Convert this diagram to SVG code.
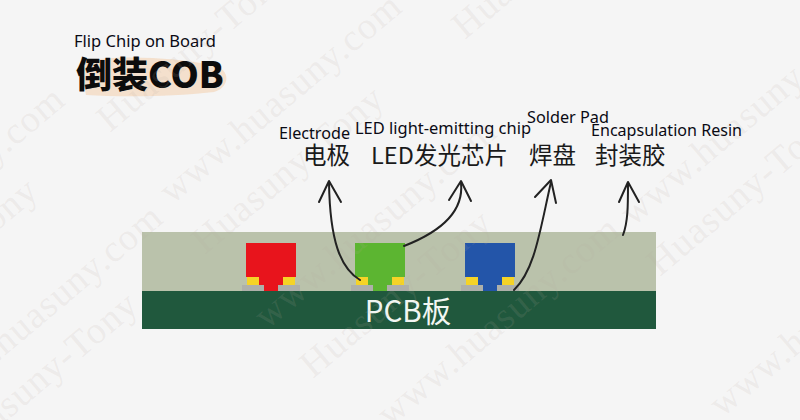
<svg xmlns="http://www.w3.org/2000/svg" width="800" height="420" viewBox="0 0 800 420">
<style>
.wm{font-family:"Liberation Serif",serif;font-size:38px;fill:#b8aaa2;fill-opacity:.15;letter-spacing:1px}
.en{font-family:"Noto Sans","Open Sans",sans-serif;font-size:16px;fill:#0a0a14}
.zh{font-family:"Noto Sans CJK SC",sans-serif;font-size:23.5px;fill:#1a1a1a}
.arrow{fill:none;stroke:#222;stroke-width:2;stroke-linecap:round;stroke-linejoin:round}
.resin{fill:#bac2ab}.pcb{fill:#20583d}.pad{fill:#f5d327}.sol{fill:#aeb0aa}
</style>
<defs>
<g id="chipBase">
<rect class="sol" x="242" y="285" width="22" height="6"/>
<rect class="sol" x="278" y="285" width="22" height="6"/>
<rect class="pad" x="247" y="277" width="12" height="8"/>
<rect class="pad" x="283" y="277" width="12" height="8"/>
</g>
</defs>
<rect width="800" height="420" fill="#f5f5f5"/>
<g id="title">
<path d="M80 62 C110 55 170 56 216 66 C232 72 228 88 214 92 C170 97 120 97 86 95 Z" fill="#f3dcc6" fill-opacity=".85"/>
<text x="74" y="47" class="en" textLength="142" lengthAdjust="spacingAndGlyphs">Flip Chip on Board</text>
<text x="76" y="88" font-family="Noto Sans CJK SC,sans-serif" font-size="36" font-weight="900" fill="#0c0c0c">倒装COB</text>
</g>
<g id="board">
<rect class="resin" x="142" y="232" width="514" height="59"/>
<rect class="pcb" x="142" y="291" width="514" height="38"/>
<text x="408" y="322" text-anchor="middle" font-family="Noto Sans CJK SC,sans-serif" font-size="29.5" fill="#f2f6f2">PCB板</text>
</g>
<g id="chip-red">
<path d="M246 243H296V277H283V285H278V291H264V285H259V277H246Z" fill="#e8141c"/>
<use href="#chipBase"/>
</g>
<g id="chip-green">
<path d="M355 243H405V277H392V285H387V291H373V285H368V277H355Z" fill="#5cb531"/>
<use href="#chipBase" x="109"/>
</g>
<g id="chip-blue">
<path d="M465 243H515V277H502V285H497V291H483V285H478V277H465Z" fill="#2355a9"/>
<use href="#chipBase" x="219"/>
</g>
<g id="watermark">
<text class="wm" transform="translate(-165,298) rotate(-40)">www.huasuny.com</text>
<text class="wm" transform="translate(110,133) rotate(-40)">Huasuny-Tony</text>
<text class="wm" transform="translate(-141,347) rotate(-40)">Huasuny-Tony</text>
<text class="wm" transform="translate(172,205) rotate(-40)">www.huasuny.com</text>
<text class="wm" transform="translate(-67,416) rotate(-40)">www.huasuny.com</text>
<text class="wm" transform="translate(205,255) rotate(-40)">Huasuny-Tony</text>
<text class="wm" transform="translate(390,428) rotate(-40)">www.huasuny.com</text>
<text class="wm" transform="translate(-41,461) rotate(-40)">Huasuny-Tony</text>
<text class="wm" transform="translate(267,330) rotate(-40)">www.huasuny.com</text>
<text class="wm" transform="translate(313,379) rotate(-40)">Huasuny-Tony</text>
<text class="wm" transform="translate(633,227) rotate(-40)">www.huasuny.com</text>
<text class="wm" transform="translate(660,277) rotate(-40)">Huasuny-Tony</text>
<text class="wm" transform="translate(722,418) rotate(-40)">www.huasuny.com</text>
<text class="wm" transform="translate(465,40) rotate(-40)">Huasuny-Tony</text>
</g>
<g id="connectors">
<path class="arrow" d="M360 280C340 268 330 240 329 183"/>
<path class="arrow" d="M319 202L329 181L341 202"/>
<path class="arrow" d="M404 246C440 232 464 212 461 183"/>
<path class="arrow" d="M449 200L461 181L471 201"/>
<path class="arrow" d="M514 290C535 270 540 230 551 182"/>
<path class="arrow" d="M535 197L551 180L556 203"/>
<path class="arrow" d="M623 235C628 222 628 205 628 184"/>
<path class="arrow" d="M619 202L628 182L639 202"/>
</g>
<g id="labels">
<text x="279" y="139" class="en" textLength="71" lengthAdjust="spacingAndGlyphs">Electrode</text>
<text x="355" y="134" class="en" textLength="176" lengthAdjust="spacingAndGlyphs">LED light-emitting chip</text>
<text x="527" y="123" class="en" textLength="82" lengthAdjust="spacingAndGlyphs">Solder Pad</text>
<text x="591" y="136" class="en" textLength="151" lengthAdjust="spacingAndGlyphs">Encapsulation Resin</text>
<text x="303" y="164" class="zh">电极</text>
<text x="371" y="164" class="zh" textLength="137">LED发光芯片</text>
<text x="529" y="164" class="zh">焊盘</text>
<text x="595" y="164" class="zh">封装胶</text>
</g>
</svg>
